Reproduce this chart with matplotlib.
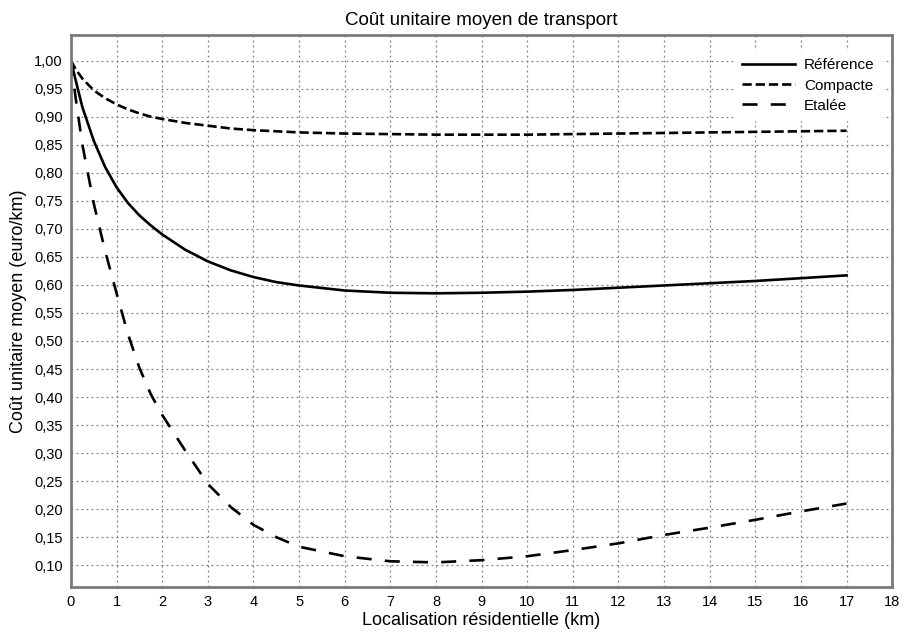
import matplotlib
matplotlib.use("Agg")
import matplotlib.pyplot as plt
from matplotlib.ticker import FuncFormatter

plt.rcParams['font.family'] = ['Liberation Sans', 'DejaVu Sans']

# distance au centre (km)
dist = [0, 0.1, 0.25, 0.5, 0.75, 1, 1.25, 1.5, 1.75, 2, 2.5, 3, 3.5, 4, 4.5,
        5, 6, 7, 8, 9, 10, 11, 12, 13, 14, 15, 16, 17]

reference = [1.0, 0.966, 0.917, 0.857, 0.810, 0.774, 0.746, 0.724, 0.706, 0.690,
             0.663, 0.642, 0.626, 0.614, 0.605, 0.599, 0.590, 0.586, 0.585,
             0.586, 0.588, 0.591, 0.595, 0.599, 0.603, 0.607, 0.612, 0.617]
compacte = [1.0, 0.985, 0.968, 0.947, 0.933, 0.922, 0.913, 0.906, 0.900, 0.896,
            0.889, 0.884, 0.879, 0.876, 0.874, 0.872, 0.870, 0.869, 0.868,
            0.868, 0.868, 0.869, 0.870, 0.871, 0.872, 0.873, 0.874, 0.875]
etalee = [1.0, 0.935, 0.850, 0.745, 0.660, 0.585, 0.512, 0.452, 0.405, 0.368,
          0.305, 0.245, 0.204, 0.172, 0.150, 0.133, 0.116, 0.107, 0.105,
          0.109, 0.116, 0.127, 0.139, 0.154, 0.167, 0.181, 0.196, 0.210]

fig = plt.figure(figsize=(9.03, 6.34), dpi=100)
ax = fig.add_axes([0.0786, 0.074, 0.9094, 0.871])

lw = 1.9
ax.plot(dist, reference, color='black', lw=lw, label='Référence')
ax.plot(dist, compacte, color='black', lw=lw, dashes=(3.5, 1.5), label='Compacte')
ax.plot(dist, etalee, color='black', lw=lw, dashes=(5.7, 5), label='Etalée')

ax.set_xlim(0, 18)
ax.set_ylim(0.061, 1.046)
ax.set_xticks(range(0, 19))
ax.set_yticks([i / 100 for i in range(10, 101, 5)])
ax.yaxis.set_major_formatter(FuncFormatter(lambda v, p: f"{v:.2f}".replace('.', ',')))

ax.grid(True, color='#808080', linestyle=(0, (1.5, 2.5)), linewidth=0.9)
ax.set_axisbelow(True)
for s in ax.spines.values():
    s.set_color('#7a7a7a')
    s.set_linewidth(2)
ax.tick_params(direction='in', length=0, labelsize=10.5, pad=6)

ax.set_title('Coût unitaire moyen de transport', fontsize=13.5, pad=7)
ax.set_xlabel('Localisation résidentielle (km)', fontsize=13, labelpad=2)
ax.set_ylabel('Coût unitaire moyen (euro/km)', fontsize=13, labelpad=5)

leg = ax.legend(loc='upper right', bbox_to_anchor=(0.997, 0.985), fontsize=11,
                frameon=True, handlelength=3.45, borderpad=0.5,
                labelspacing=0.4, handletextpad=0.6,
                fancybox=False, framealpha=1)
leg.get_frame().set_edgecolor('white')
leg.get_frame().set_facecolor('white')

fig.savefig('out.png', dpi=100)
